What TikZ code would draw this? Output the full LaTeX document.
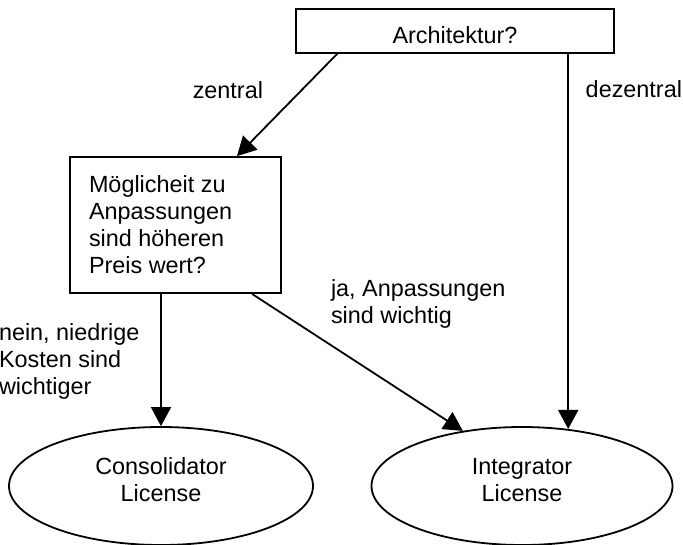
\documentclass[tikz,border=0pt]{standalone}
\usepackage{fontspec}
\setmainfont{Liberation Sans}
\usetikzlibrary{arrows.meta,shapes.geometric}
% stacked lines whose base is the first line's baseline
\newcommand{\txtblock}[2]{\begin{tabular}[t]{@{}#1@{}}#2\end{tabular}}
\begin{document}
\begin{tikzpicture}[x=1pt,y=-1pt,
  lbl/.style={font=\fontsize{23.4}{27}\selectfont, inner sep=0pt, outer sep=0pt},
  box/.style={draw, line width=1.8pt, rectangle, inner sep=0pt},
  oval/.style={draw, line width=1.8pt, ellipse, inner sep=0pt},
  arr/.style={line width=1.8pt, -{Triangle[length=19pt,width=20pt]}}]
\useasboundingbox (0,0) rectangle (683,544);

% question boxes
\node[box, lbl, minimum width=318pt, minimum height=44pt, text height=24pt, text depth=0pt]
  (arch) at (455,31) {Architektur?};
\node[box, minimum width=211pt, minimum height=136pt] (mid) at (175.5,225) {};
\node[lbl, anchor=base west] (midtxt) at (89,192)
  {\txtblock{l}{Möglicheit zu\\Anpassungen\\sind höheren\\Preis wert?}};

% outcomes
\node[oval, minimum width=304pt, minimum height=118pt] (cons) at (161,486) {};
\node[lbl, anchor=base] (constxt) at (161,474) {\txtblock{c}{Consolidator\\License}};
\node[oval, minimum width=301pt, minimum height=118pt] (integ) at (522,486) {};
\node[lbl, anchor=base] (integtxt) at (522,474) {\txtblock{c}{Integrator\\License}};

% connectors
\draw[arr] ([xshift=-117pt]arch.south) -- ([xshift=61.5pt]mid.north);
\draw[arr] (arch.south -| integ.51.4) -- (integ.51.4);
\draw[arr] (mid.south -| cons.north) -- (cons.north);
\draw[arr] ([xshift=76.5pt]mid.south) -- (integ.137);

% edge labels
\node[lbl, anchor=base east] (lzentral) at (263,98) {zentral};
\node[lbl, anchor=base east] (ldezentral) at (682,97) {dezentral};
\node[lbl, anchor=base west] (lja) at (331,296) {\txtblock{l}{ja, Anpassungen\\sind wichtig}};
\node[lbl, anchor=base west] (lnein) at (-1,340) {\txtblock{l}{nein, niedrige\\Kosten sind\\wichtiger}};
\end{tikzpicture}
\end{document}
